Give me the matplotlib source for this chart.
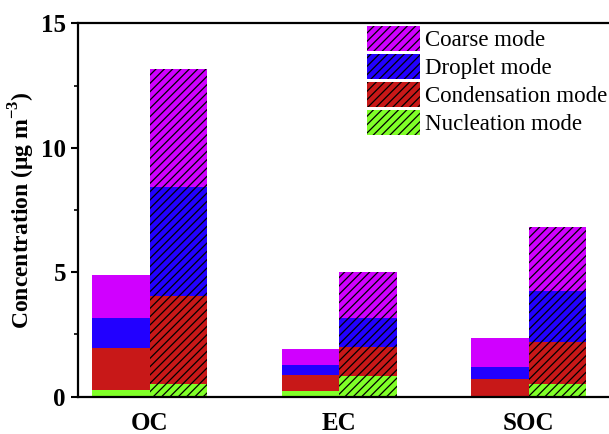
import matplotlib
matplotlib.use("Agg")
import matplotlib.pyplot as plt
import numpy as np

plt.rcParams['font.family'] = ['Liberation Serif', 'DejaVu Serif']
plt.rcParams['hatch.linewidth'] = 0.9
plt.rcParams['mathtext.fontset'] = 'custom'
plt.rcParams['mathtext.bf'] = 'Liberation Serif:bold'
plt.rcParams['mathtext.rm'] = 'Liberation Serif'

categories = ["OC", "EC", "SOC"]
modes = ["Nucleation mode", "Condensation mode", "Droplet mode", "Coarse mode"]
colors = ["#80FF28", "#C81818", "#2200FF", "#D000FF"]

# plain (left) bars: per-mode contributions
plain_nucleation = [0.27, 0.24, 0.0]
plain_condensation = [1.67, 0.62, 0.71]
plain_droplet = [1.21, 0.40, 0.50]
plain_coarse = [1.74, 0.64, 1.13]

# hatched (right) bars
hatch_nucleation = [0.50, 0.84, 0.50]
hatch_condensation = [3.54, 1.17, 1.71]
hatch_droplet = [4.40, 1.16, 2.04]
hatch_coarse = [4.72, 1.85, 2.58]

plain = [plain_nucleation, plain_condensation, plain_droplet, plain_coarse]
hatched = [hatch_nucleation, hatch_condensation, hatch_droplet, hatch_coarse]

fig = plt.figure(figsize=(6.09, 4.34), dpi=100)
ax = fig.add_axes([0.1276, 0.086, 0.874, 0.860])

x = np.arange(1, len(categories) + 1)
w = 0.304

bottom = np.zeros(len(categories))
for vals, c in zip(plain, colors):
    ax.bar(x - w / 2, vals, w, bottom=bottom, color=c, edgecolor='none', linewidth=0)
    bottom += np.array(vals)

bottom = np.zeros(len(categories))
handles = []
for vals, c, lab in zip(hatched, colors, modes):
    b = ax.bar(x + w / 2, vals, w, bottom=bottom, color=c, edgecolor='black',
               linewidth=0, hatch='////', label=lab)
    handles.append(b)
    bottom += np.array(vals)

ax.set_xlim(0.62, 3.43)
ax.set_ylim(0, 15)
ax.set_yticks([0, 5, 10, 15])
ax.set_yticks([2.5, 7.5, 12.5], minor=True)
ax.set_xticks(x)
ax.set_xticklabels(categories, fontsize=18, fontweight='bold')
ax.tick_params(axis='x', length=0, pad=11)
ax.tick_params(axis='y', which='major', length=5, width=1.5, labelsize=18, direction='out')
ax.tick_params(axis='y', which='minor', length=3, width=1.2, direction='out')
for lab in ax.get_yticklabels():
    lab.set_fontweight('bold')

for s in ax.spines.values():
    s.set_linewidth(1.6)
ax.spines['right'].set_visible(False)

ax.set_ylabel(r'Concentration ($\mathbf{\mu}$g m$^{\mathbf{-3}}$)', fontsize=17,
              fontweight='bold', labelpad=3)

leg = ax.legend(handles[::-1], modes[::-1], loc='upper right', bbox_to_anchor=(1.0, 1.0),
                frameon=False, fontsize=16.5, handlelength=2.3, handleheight=1.35,
                labelspacing=0.1, handletextpad=0.25, borderpad=0.1, borderaxespad=0.0)

fig.savefig("out.png", dpi=100)
